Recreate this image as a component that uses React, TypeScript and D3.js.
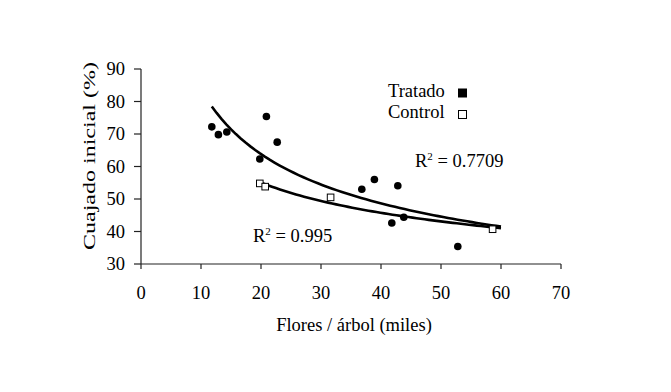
import React from 'react';
import * as d3 from 'd3';

// Flores / árbol (miles) vs. cuajado inicial (%)
const tratadoX = [11.8, 12.9, 14.3, 19.8, 20.9, 22.7, 36.8, 38.9, 41.8, 42.8, 43.8, 52.8];
const tratadoY = [72.2, 69.8, 70.6, 62.3, 75.4, 67.5, 53.0, 56.0, 42.6, 54.1, 44.4, 35.4];
const controlX = [19.8, 20.7, 31.6, 58.6];
const controlY = [54.8, 53.8, 50.5, 40.7];
const xTicks = [0, 10, 20, 30, 40, 50, 60, 70];
const yTicks = [30, 40, 50, 60, 70, 80, 90];
const trendEnd = 60;
const r2Tratado = '0.7709';
const r2Control = '0.995';

const W = 671, H = 392;
const margin = { left: 141, right: 110, top: 69, bottom: 128 };
const font = '"Liberation Serif", "Times New Roman", serif';

// power fit y = a * x^b, the same way a spreadsheet trendline does it (log-log least squares)
function powerFit(xs: number[], ys: number[]) {
  const lx = xs.map(Math.log), ly = ys.map(Math.log);
  const mx = d3.mean(lx)!, my = d3.mean(ly)!;
  const b = d3.sum(lx, (v, i) => (v - mx) * (ly[i] - my)) / d3.sum(lx, v => (v - mx) ** 2);
  const a = Math.exp(my - b * mx);
  return (x: number) => a * Math.pow(x, b);
}

const App = () => {
  const x = d3.scaleLinear().domain([0, 70]).range([margin.left, W - margin.right]);
  const y = d3.scaleLinear().domain([30, 90]).range([H - margin.bottom, margin.top]);

  const trend = (xs: number[], ys: number[]) => {
    const f = powerFit(xs, ys);
    const x0 = d3.min(xs)!;
    const pts = d3.range(0, 61).map(i => x0 + (trendEnd - x0) * i / 60);
    return d3.line<number>().x(d => x(d)).y(d => y(f(d)))(pts) || '';
  };

  const x0 = x(0), y0 = y(30);

  return (
    <>
      <style>{'body{margin:0}'}</style>
      <svg width={W} height={H} style={{ display: 'block', background: '#fff' }} fontFamily={font}>
        {/* axes */}
        <line x1={x0} x2={x(70)} y1={y0} y2={y0} stroke="#222" strokeWidth={1.2} />
        <line x1={x0} x2={x0} y1={y(90)} y2={y0} stroke="#222" strokeWidth={1.2} />
        {xTicks.map(t => (
          <g key={'x' + t}>
            <line x1={x(t)} x2={x(t)} y1={y0} y2={y0 + 5} stroke="#222" strokeWidth={1.2} />
            <text x={x(t)} y={y0 + 35} textAnchor="middle" fontSize={18.5}>{t}</text>
          </g>
        ))}
        {yTicks.map(t => (
          <g key={'y' + t}>
            <line x1={x0 - 7} x2={x0} y1={y(t)} y2={y(t)} stroke="#222" strokeWidth={1.2} />
            <text x={x0 - 16} y={y(t) + 6} textAnchor="end" fontSize={18.5}>{t}</text>
          </g>
        ))}

        {/* axis titles */}
        <text x={(x0 + x(70)) / 2 + 3} y={331} textAnchor="middle" fontSize={18.5}>Flores / árbol (miles)</text>
        <text transform={`translate(95,156) rotate(-90)`} textAnchor="middle" fontSize={17}
          textLength={188} lengthAdjust="spacingAndGlyphs">Cuajado inicial (%)</text>

        {/* trend lines */}
        <path d={trend(tratadoX, tratadoY)} fill="none" stroke="#000" strokeWidth={2.6} />
        <path d={trend(controlX, controlY)} fill="none" stroke="#000" strokeWidth={2.6} />

        {/* points */}
        {tratadoX.map((v, i) => (
          <circle key={'t' + i} cx={x(v)} cy={y(tratadoY[i])} r={3.8} fill="#000" />
        ))}
        {controlX.map((v, i) => (
          <rect key={'c' + i} x={x(v) - 3.3} y={y(controlY[i]) - 3.3} width={6.6} height={6.6}
            fill="#fff" stroke="#000" strokeWidth={1} />
        ))}

        {/* R² labels */}
        <text x={415} y={167} fontSize={18.5}>R<tspan dy={-7} fontSize={11}>2</tspan><tspan dy={7}> = {r2Tratado}</tspan></text>
        <text x={253} y={242} fontSize={18.5}>R<tspan dy={-7} fontSize={11}>2</tspan><tspan dy={7}> = {r2Control}</tspan></text>

        {/* legend */}
        <text x={388} y={97} fontSize={18.5}>Tratado</text>
        <rect x={458} y={88.5} width={9} height={9} fill="#000" />
        <text x={388} y={118} fontSize={18.5}>Control</text>
        <rect x={458.5} y={110.5} width={8} height={8} fill="#fff" stroke="#000" strokeWidth={1} />
      </svg>
    </>
  );
};

export default App;
